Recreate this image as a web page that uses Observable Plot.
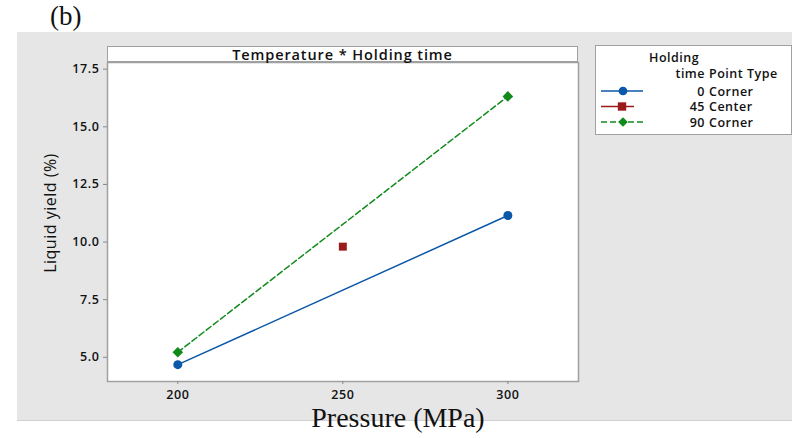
<!DOCTYPE html>
<html>
<head>
<meta charset="utf-8">
<script src="https://cdn.jsdelivr.net/npm/d3@7"></script>
<script src="https://cdn.jsdelivr.net/npm/@observablehq/plot@0.6"></script>
<style>
  html, body { margin: 0; padding: 0; background: #fff; }
  #wrap { position: relative; width: 792px; height: 438px; overflow: hidden; font-family: "Open Sans", sans-serif; }
  #bg { position: absolute; left: 17px; top: 32px; width: 775px; height: 388px; background: #e6e6e6; border-bottom: 1px solid #d0d0d0; }
  #panel { position: absolute; left: 0; top: 0; }
  #strip { position: absolute; left: 107px; top: 46px; width: 469px; height: 14px; background: #fff; border: 1.5px solid #a0a0a0;
           font-size: 14.5px; font-weight: 600; letter-spacing: 0.9px; color: #111; text-align: center; line-height: 15px; }
  #tag { position: absolute; left: 50px; top: 1px; font-family: "Liberation Serif", serif; font-size: 27px; color: #111; }
  #xlab { position: absolute; left: 0; width: 796px; top: 404px; height: 28px; line-height: 28px; text-align: center; font-family: "Liberation Serif", serif; font-size: 28px; color: #111; }
  #ylab { position: absolute; left: 50px; top: 213px; transform: translate(-50%, -50%) rotate(-90deg); white-space: nowrap; font-size: 16px; letter-spacing: 0.5px; color: #111; }
  #legend { position: absolute; left: 595px; top: 45px; width: 195px; height: 88px; background: #fff; border: 1px solid #a0a0a0; }
</style>
</head>
<body>
<div id="wrap">
  <div id="bg"></div>
  <div id="tag">(b)</div>
  <div id="panel"></div>
  <div id="strip">Temperature * Holding time</div>
  <div id="ylab">Liquid yield (%)</div>
  <div id="xlab">Pressure (MPa)</div>
  <div id="legend"></div>
</div>
<script>
// Data
const holdingTimes = [0, 45, 90];
const pointTypes = ["Corner", "Center", "Corner"];
const seriesColors = ["#0b57a8", "#9b1b1b", "#118a1c"];
const seriesSymbols = ["circle", "square", "diamond2"];
const seriesDash = [null, null, "6,3"];

const pressure0 = [200, 300];
const yield0 = [4.68, 11.15];
const pressure45 = [250];
const yield45 = [9.8];
const pressure90 = [200, 300];
const yield90 = [5.22, 16.32];

const xTicks = [200, 250, 300];
const yTicks = [5, 7.5, 10, 12.5, 15, 17.5];

const rows = [];
pressure0.forEach((p, i) => rows.push({series: 0, x: p, y: yield0[i]}));
pressure45.forEach((p, i) => rows.push({series: 1, x: p, y: yield45[i]}));
pressure90.forEach((p, i) => rows.push({series: 2, x: p, y: yield90[i]}));
const s0 = rows.filter(d => d.series === 0);
const s1 = rows.filter(d => d.series === 1);
const s2 = rows.filter(d => d.series === 2);

const chart = Plot.plot({
  width: 792,
  height: 438,
  marginLeft: 107,
  marginRight: 214,
  marginTop: 62,
  marginBottom: 57,
  style: {background: "transparent", fontFamily: "Open Sans, sans-serif", color: "#111", letterSpacing: "0.6px"},
  x: {domain: [178.7, 321.4]},
  y: {domain: [3.95, 17.79]},
  marks: [
    Plot.frame({fill: "white", stroke: "#a0a0a0", strokeWidth: 1.5}),
    Plot.axisX({ticks: xTicks, tickSize: 3, label: null, tickFormat: () => "", stroke: "#888"}),
    Plot.axisX({ticks: xTicks, tickSize: 0, tickPadding: 9, label: null, fontSize: 12.5, fontWeight: 600}),
    Plot.axisY({ticks: yTicks, tickSize: 4, label: null, tickFormat: () => "", stroke: "#888"}),
    Plot.axisY({ticks: yTicks, tickSize: 0, tickPadding: 8, label: null, tickFormat: d3.format(".1f"), fontSize: 12.5, fontWeight: 600}),
    Plot.line(s0, {x: "x", y: "y", stroke: seriesColors[0], strokeWidth: 1.5}),
    Plot.line(s2, {x: "x", y: "y", stroke: seriesColors[2], strokeWidth: 1.5, strokeDasharray: seriesDash[2]}),
    Plot.dot(s0, {x: "x", y: "y", fill: seriesColors[0], symbol: seriesSymbols[0], r: 4.5}),
    Plot.dot(s1, {x: "x", y: "y", fill: seriesColors[1], symbol: seriesSymbols[1], r: 4.5}),
    Plot.dot(s2, {x: "x", y: "y", fill: seriesColors[2], symbol: seriesSymbols[2], r: 4.8})
  ]
});
document.getElementById("panel").appendChild(chart);

// Legend
const lg = d3.select("#legend").append("svg").attr("width", 195).attr("height", 88)
  .style("font-family", "Open Sans, sans-serif").style("font-size", "12.5px").style("font-weight", 600)
  .style("letter-spacing", "0.5px").style("fill", "#111");
lg.append("text").attr("x", 53).attr("y", 16).text("Holding");
lg.append("text").attr("x", 109).attr("y", 32).attr("text-anchor", "end").text("time");
lg.append("text").attr("x", 113).attr("y", 32).text("Point Type");
const symGen = {circle: d3.symbolCircle, square: d3.symbolSquare, diamond2: d3.symbolDiamond2};
holdingTimes.forEach((t, i) => {
  const y = 45 + i * 15.5;
  const g = lg.append("g");
  g.append("line").attr("x1", 5).attr("x2", i === 1 ? 38 : 47).attr("y1", y).attr("y2", y)
    .attr("stroke", seriesColors[i]).attr("stroke-width", 1.5).attr("stroke-dasharray", seriesDash[i]);
  g.append("path").attr("transform", `translate(${i === 1 ? 26 : 27},${y})`)
    .attr("d", d3.symbol(symGen[seriesSymbols[i]], i === 1 ? 70 : 60)()).attr("fill", seriesColors[i]);
  g.append("text").attr("x", 109).attr("y", y + 4.5).attr("text-anchor", "end").text(t);
  g.append("text").attr("x", 113).attr("y", y + 4.5).text(pointTypes[i]);
});
</script>
</body>
</html>
